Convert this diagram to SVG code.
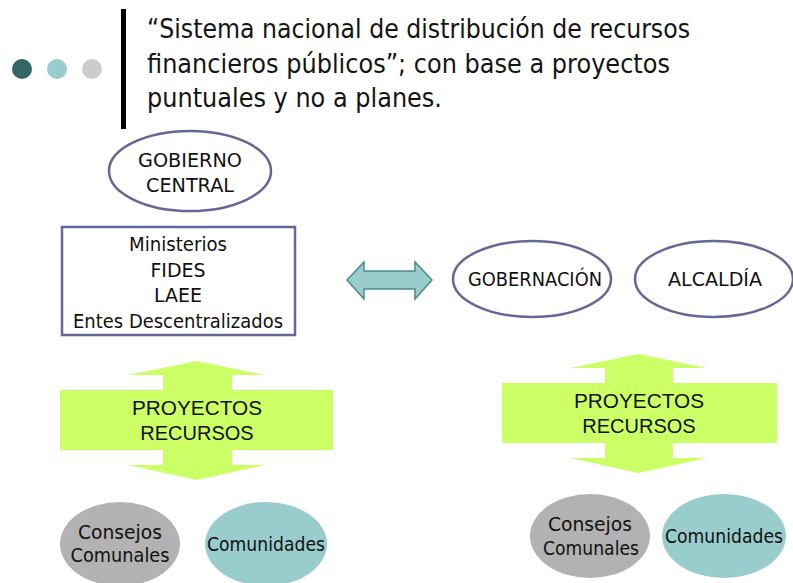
<svg xmlns="http://www.w3.org/2000/svg" width="793" height="583" viewBox="0 0 793 583">
<style>
.title{font-family:"DejaVu Sans","Open Sans",sans-serif;font-size:26px;fill:#141414}
.t{font-family:"DejaVu Sans","Liberation Sans",sans-serif;font-size:19px;fill:#111;text-anchor:middle}
.c{font-family:"DejaVu Sans","Liberation Sans",sans-serif;font-size:20px;fill:#111;text-anchor:middle}
.a{font-family:"Liberation Sans",Arial,sans-serif;font-size:20px;fill:#111;text-anchor:middle}
.ov{fill:#fff;stroke:#666699;stroke-width:2.5}
.box{fill:#fff;stroke:#666699;stroke-width:2.5}
.green{fill:#ccff66}
.gray{fill:#b2b2b2}
.teal{fill:#99cccc}
</style>
<rect width="793" height="583" fill="#fff"/>
<g id="header">
<circle cx="22" cy="69" r="10" fill="#336666"/>
<circle cx="57" cy="69" r="10" fill="#99cccc"/>
<circle cx="92" cy="69" r="10" fill="#cccccc"/>
<rect x="121" y="9" width="5" height="120" fill="#000"/>
<text class="title" x="147" y="38" textLength="543" lengthAdjust="spacingAndGlyphs">“Sistema nacional de distribución de recursos</text>
<text class="title" x="147" y="73" textLength="523" lengthAdjust="spacingAndGlyphs">financieros públicos”; con base a proyectos</text>
<text class="title" x="147" y="107" textLength="295" lengthAdjust="spacingAndGlyphs">puntuales y no a planes.</text>
</g>
<g id="gobierno-central">
<ellipse class="ov" cx="190" cy="171" rx="81" ry="40"/>
<text class="t" x="190" y="167" textLength="104" lengthAdjust="spacingAndGlyphs">GOBIERNO</text>
<text class="t" x="190" y="192" textLength="88" lengthAdjust="spacingAndGlyphs">CENTRAL</text>
</g>
<g id="entidades">
<rect class="box" x="62" y="227" width="233" height="108"/>
<text class="t" x="178" y="251" textLength="98" lengthAdjust="spacingAndGlyphs">Ministerios</text>
<text class="t" x="178" y="277">FIDES</text>
<text class="t" x="178" y="302">LAEE</text>
<text class="t" x="178" y="328" textLength="210" lengthAdjust="spacingAndGlyphs">Entes Descentralizados</text>
</g>
<g id="connectors">
<polygon points="347,280 364,262 364,271 415,271 415,262 432,280 415,299 415,289 364,289 364,299" fill="#99cccc" stroke="#4f8a8a" stroke-width="1.5" stroke-linejoin="miter"/>
</g>
<g id="gobernacion">
<ellipse class="ov" cx="532" cy="279" rx="79" ry="38"/>
<text class="t" x="535" y="286" textLength="134" lengthAdjust="spacingAndGlyphs">GOBERNACIÓN</text>
</g>
<g id="alcaldia">
<ellipse class="ov" cx="714" cy="279" rx="79" ry="38"/>
<text class="t" x="715" y="286" textLength="94" lengthAdjust="spacingAndGlyphs">ALCALDÍA</text>
</g>
<g id="proyectos-izq">
<polygon class="green" points="197,361 265,375 232,375 232,390 333,390 333,450 232,450 232,465 265,465 197,480 128,465 163,465 163,450 60,450 60,390 163,390 163,375 128,375"/>
<text class="a" x="197" y="415" textLength="130" lengthAdjust="spacingAndGlyphs">PROYECTOS</text>
<text class="a" x="197" y="440">RECURSOS</text>
</g>
<g id="proyectos-der">
<polygon class="green" points="638,354 707,368 673,368 673,383 777,383 777,443 673,443 673,458 707,458 638,473 570,458 605,458 605,443 502,443 502,383 605,383 605,368 570,368"/>
<text class="a" x="639" y="408" textLength="130" lengthAdjust="spacingAndGlyphs">PROYECTOS</text>
<text class="a" x="639" y="433">RECURSOS</text>
</g>
<g id="consejos-izq">
<ellipse class="gray" cx="120" cy="544" rx="60" ry="42"/>
<text class="c" x="120" y="539" textLength="84" lengthAdjust="spacingAndGlyphs">Consejos</text>
<text class="c" x="120" y="562" textLength="99" lengthAdjust="spacingAndGlyphs">Comunales</text>
</g>
<g id="comunidades-izq">
<ellipse class="teal" cx="266" cy="544" rx="61" ry="42"/>
<text class="c" x="266" y="551" textLength="118" lengthAdjust="spacingAndGlyphs">Comunidades</text>
</g>
<g id="consejos-der">
<ellipse class="gray" cx="590" cy="536" rx="60" ry="42"/>
<text class="c" x="590" y="531" textLength="84" lengthAdjust="spacingAndGlyphs">Consejos</text>
<text class="c" x="591" y="555" textLength="96" lengthAdjust="spacingAndGlyphs">Comunales</text>
</g>
<g id="comunidades-der">
<ellipse class="teal" cx="724" cy="536" rx="62" ry="42"/>
<text class="c" x="724" y="543" textLength="118" lengthAdjust="spacingAndGlyphs">Comunidades</text>
</g>
</svg>
